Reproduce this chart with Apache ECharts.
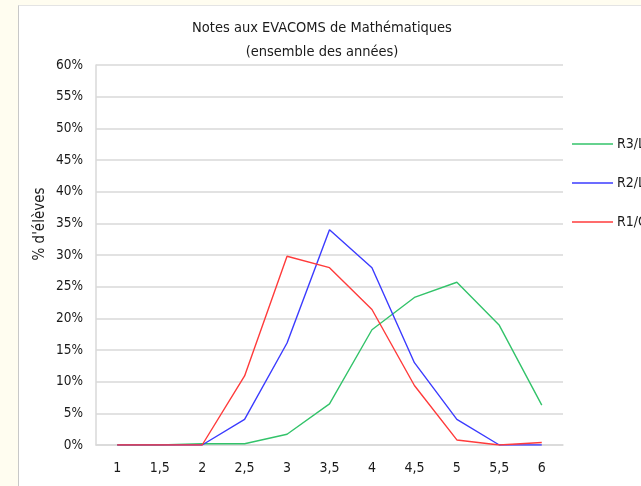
<!DOCTYPE html>
<html>
<head>
<meta charset="utf-8">
<script src="https://cdn.jsdelivr.net/npm/echarts@6/dist/echarts.min.js"></script>
<style>
  html, body { margin: 0; padding: 0; background: #fffdf0; overflow: hidden; }
  #frame { position: absolute; left: 18px; top: 5px; width: 640px; height: 500px;
           background: #fff; border-left: 1px solid #c8c8c8; border-top: 1px solid #e4e4e4; }
  #chart { position: absolute; left: -19px; top: -6px; width: 641px; height: 486px; }
</style>
</head>
<body>
<div id="frame"><div id="chart"></div></div>
<script>
// notes (axe des x)
var notes = ['1', '1,5', '2', '2,5', '3', '3,5', '4', '4,5', '5', '5,5', '6'];
// pourcentage d'élèves par groupe
var r3l = [0, 0, 0.2, 0.2, 1.7, 6.5, 18.2, 23.3, 25.7, 18.9, 6.3];
var r2l = [0, 0, 0, 4.05, 16.1, 34.0, 28.0, 13.0, 4.05, 0, 0];
var r1c = [0, 0, 0, 10.9, 29.8, 28.0, 21.4, 9.4, 0.8, 0, 0.4];

var font = '"DejaVu Sans Condensed", "Liberation Sans", Arial, sans-serif';

var myChart = echarts.init(document.getElementById('chart'));
myChart.setOption({
    animation: false,
    title: {
        left: 317,
        textAlign: 'center',
        top: 11,
        text: 'Notes aux EVACOMS de Mathématiques\n(ensemble des années)',
        textStyle: { fontFamily: font, fontSize: 14.5, fontWeight: 'normal', color: '#1a1a1a', lineHeight: 24 }
    },
    legend: {
        orient: 'vertical',
        left: 567,
        top: 132,
        icon: 'rect',
        itemWidth: 41,
        itemHeight: 1.5,
        itemGap: 25,
        textStyle: { fontFamily: font, fontSize: 14, color: '#1a1a1a', padding: [0, 0, 0, -1] },
        data: ['R3/L3', 'R2/L2', 'R1/C1']
    },
    graphic: [{
        type: 'text',
        x: 40,
        y: 224,
        rotation: Math.PI / 2,
        style: {
            text: "% d'élèves",
            font: '15px ' + font,
            fill: '#1a1a1a',
            align: 'center',
            verticalAlign: 'middle'
        }
    }],
    grid: { left: 96, top: 65, width: 467, height: 380 },
    xAxis: {
        type: 'category',
        data: notes,
        boundaryGap: true,
        axisLine: { lineStyle: { color: '#d9d9d9', width: 1.5 } },
        axisTick: { show: false },
        axisLabel: { fontFamily: font, fontSize: 14, color: '#1a1a1a', margin: 16 }
    },
    yAxis: {
        type: 'value',
        min: 0,
        max: 60,
        interval: 5,
        axisLine: { show: true, lineStyle: { color: '#d9d9d9', width: 1.5 } },
        axisTick: { show: false },
        splitLine: { lineStyle: { color: '#d9d9d9', width: 1.5 } },
        axisLabel: { fontFamily: font, fontSize: 13.5, color: '#1a1a1a', margin: 13, formatter: '{value}%' }
    },
    series: [{
        name: 'R3/L3',
        type: 'line',
        symbol: 'none',
        data: r3l,
        lineStyle: { color: '#33c36a', width: 1.4 },
        itemStyle: { color: '#33c36a' }
    }, {
        name: 'R2/L2',
        type: 'line',
        symbol: 'none',
        data: r2l,
        lineStyle: { color: '#3b3bff', width: 1.4 },
        itemStyle: { color: '#3b3bff' }
    }, {
        name: 'R1/C1',
        type: 'line',
        symbol: 'none',
        data: r1c,
        lineStyle: { color: '#ff3b3b', width: 1.4 },
        itemStyle: { color: '#ff3b3b' }
    }]
});
</script>
</body>
</html>
